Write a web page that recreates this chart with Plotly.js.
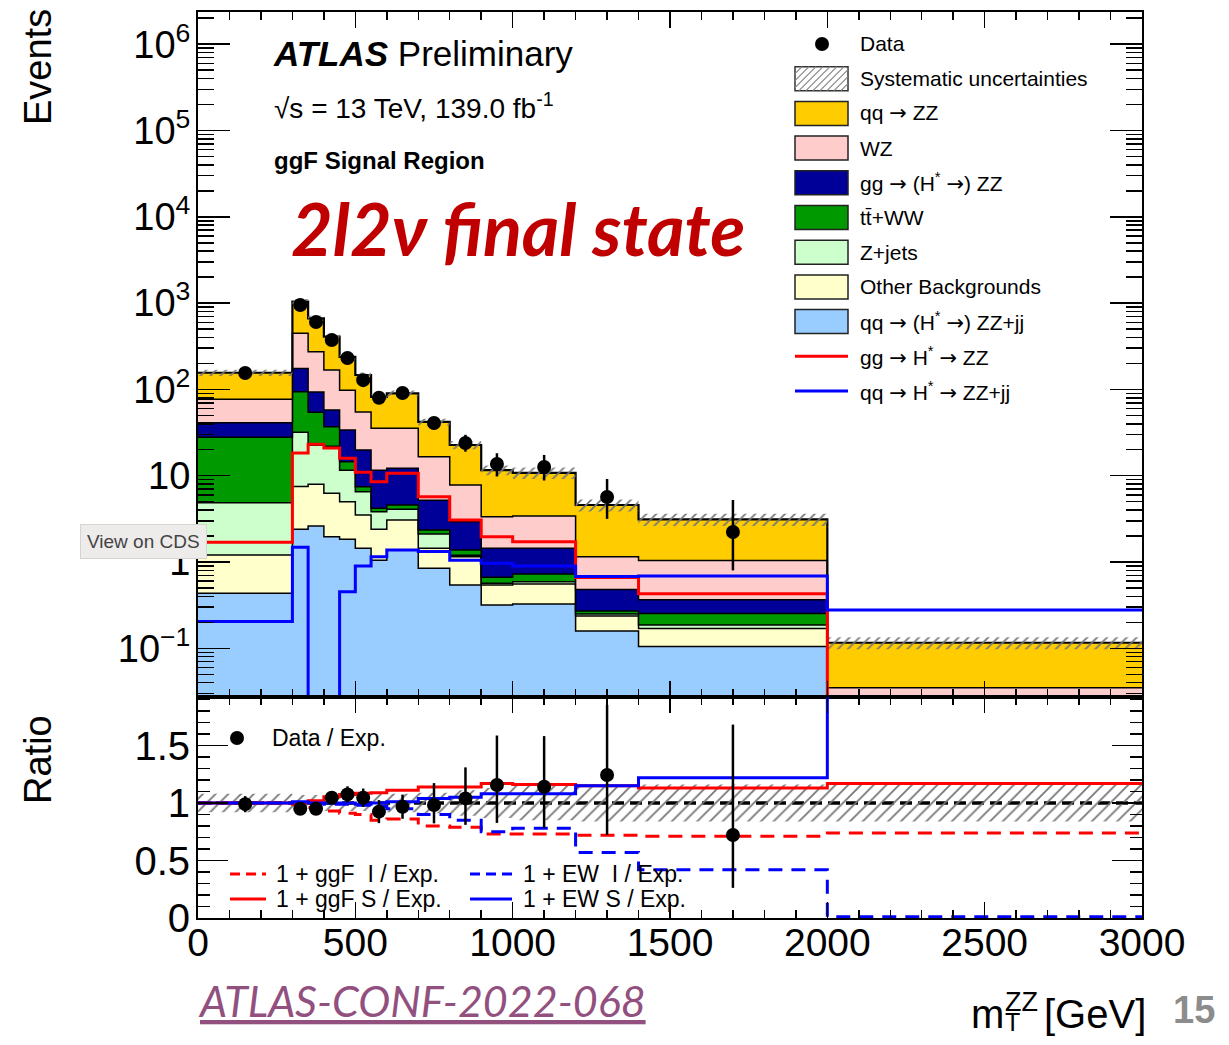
<!DOCTYPE html>
<html><head><meta charset="utf-8">
<script src="https://cdn.plot.ly/plotly-3.0.1.min.js"></script>
<style>body{margin:0;background:#fff}#plot{width:1229px;height:1045px}</style>
</head><body><div id="plot"></div>
<script>
// ---------------- data ----------------
const binEdges = [0,300,350,400,450,500,550,600,700,800,900,1000,1200,1400,2000,3000];
// stacked background components (events per bin), bottom to top
const qqZZjj   = [0.434, 2.39, 2.61, 1.96, 1.83, 1.44, 1.05, 1.38, 0.845, 0.54, 0.317, 0.326, 0.159, 0.105, 0.004];
const otherBkg = [0.77, 5.1, 5.34, 4.29, 3.17, 2.06, 1.34, 1.69, 0.595, 0.61, 0.223, 0.23, 0.078, 0.065, 0.002];
const zJets    = [3.66, 24.5, 14.6, 15.7, 6.6, 3.0, 1.44, 1.01, 0.67, 0.05, 0.026, 0.034, 0.013, 0.016, 0.001];
const ttWW     = [23.0, 62, 32, 15, 2.9, 0.96, 0.36, 0.5, 0.24, 0.18, 0.098, 0.136, 0.02, 0.068, 0.002];
const ggZZ     = [13.1, 81, 39, 20.7, 19.3, 12.4, 7.4, 7.6, 2.85, 1.55, 0.776, 0.714, 0.21, 0.111, 0.003];
const wzBkg    = [36, 272, 179, 110, 64, 35, 23.8, 23.2, 11.4, 4.87, 1.91, 1.97, 0.67, 0.675, 0.023];
const qqZZ     = [79, 593, 394, 241, 141, 92, 46.6, 54.6, 25.4, 14.9, 8.25, 7.39, 3.43, 2.08, 0.081];
const sysFrac  = [0.08, 0.07, 0.07, 0.07, 0.07, 0.07, 0.08, 0.08, 0.09, 0.11, 0.13, 0.15, 0.16, 0.16, 0.16];
// signal overlays
const ggHstarZZ   = [1.69, 18.3, 23.2, 21, 15.9, 11, 8.5, 10.7, 5.7, 3.07, 1.96, 1.72, 0.66, 0.43, 0.02];
const qqHstarZZjj = [0.204, 1.48, 0.001, 0.001, 0.453, 0.9, 1.15, 1.38, 1.32, 1.05, 0.97, 0.9, 0.68, 0.69, 0.278];
// data
const dataCounts = [155, 951, 604, 373, 231, 128, 80, 91, 40.8, 23.9, 13.7, 12.6, 5.66, 2.23];
const dataErrUp  = [12.5, 31, 25, 19, 15, 11.5, 9, 9.5, 7.4, 5.9, 4.5, 4.8, 3.5, 3.0];
const dataErrDn  = [12.5, 31, 25, 19, 15, 11.5, 9, 9.5, 6.4, 4.9, 3.9, 3.8, 2.5, 1.43];
// ratio panel
const ratioData  = [0.99, 0.95, 0.95, 1.046, 1.075, 1.046, 0.925, 0.968, 0.983, 1.04, 1.157, 1.142, 1.243, 0.722];
const ratioErrUp = [0.07, 0.04, 0.05, 0.05, 0.07, 0.08, 0.1, 0.105, 0.19, 0.27, 0.43, 0.44, 0.61, 0.96];
const ratioErrDn = [0.07, 0.04, 0.05, 0.05, 0.07, 0.08, 0.1, 0.105, 0.16, 0.23, 0.33, 0.36, 0.52, 0.46];
const ratioGgfI = [1.0, 0.99, 0.96, 0.93, 0.91, 0.9, 0.85, 0.86, 0.8, 0.79, 0.73, 0.73, 0.72, 0.71, 0.74];
const ratioGgfS = [1.0, 1.0, 1.02, 1.055, 1.075, 1.085, 1.09, 1.11, 1.14, 1.14, 1.17, 1.16, 1.15, 1.13, 1.17];
const ratioEwI  = [1.0, 1.0, 1.0, 0.99, 0.99, 0.98, 0.97, 0.95, 0.9, 0.85, 0.75, 0.78, 0.57, 0.42, 0.01];
const ratioEwS  = [1.0, 1.01, 1.0, 1.0, 1.0, 0.99, 1.0, 1.01, 1.04, 1.05, 1.08, 1.08, 1.15, 1.22, 3.4];

const AR = '<span style="font-family:DejaVu Sans">→</span>';
const legendLabels = ['Data','Systematic uncertainties','qq '+AR+' ZZ','WZ','gg '+AR+' (H<sup>*</sup> '+AR+') ZZ','tt\u0304+WW','Z+jets','Other Backgrounds','qq '+AR+' (H<sup>*</sup> '+AR+') ZZ+jj','gg '+AR+' H<sup>*</sup> '+AR+' ZZ','qq '+AR+' H<sup>*</sup> '+AR+' ZZ+jj'];
const stackColors = {qqZZjj:'#99CCFF', other:'#FFFFCC', zjets:'#CCFFCC', tt:'#009900', gg:'#000099', wz:'#FFCCCC', qqzz:'#FFCC00'};

// ---------------- build ----------------
const nb = binEdges.length - 1;
const centers = binEdges.slice(0,-1).map((e,i)=>(e+binEdges[i+1])/2);
const step = v => v.concat([v[v.length-1]]);
const traces = [];
const stack = [
  {v:qqZZjj, c:stackColors.qqZZjj}, {v:otherBkg, c:stackColors.other}, {v:zJets, c:stackColors.zjets},
  {v:ttWW, c:stackColors.tt}, {v:ggZZ, c:stackColors.gg}, {v:wzBkg, c:stackColors.wz}, {v:qqZZ, c:stackColors.qqzz}
];
let cum = new Array(nb).fill(0);
stack.forEach((s,i)=>{
  cum = cum.map((v,j)=>v+s.v[j]);
  traces.push({x:binEdges, y:step(cum), mode:'lines', xaxis:'x', yaxis:'y',
    line:{shape:'hv', color:'#000', width: i===stack.length-1 ? 2.2 : 1.5},
    fill: i===0 ? 'tozeroy' : 'tonexty', fillcolor:s.c, hoverinfo:'skip', showlegend:false});
});
const total = cum.slice();
// systematic band
traces.push({x:binEdges, y:step(total.map((t,j)=>t*(1-sysFrac[j]))), mode:'lines', line:{shape:'hv', width:0, color:'rgba(0,0,0,0)'}, xaxis:'x', yaxis:'y', hoverinfo:'skip', showlegend:false});
traces.push({x:binEdges, y:step(total.map((t,j)=>t*(1+sysFrac[j]))), mode:'lines', line:{shape:'hv', width:0, color:'rgba(0,0,0,0)'}, fill:'tonexty', fillcolor:'rgba(0,0,0,0)',
  fillpattern:{shape:'/', fgcolor:'#777', bgcolor:'rgba(0,0,0,0)', size:7, solidity:0.25}, xaxis:'x', yaxis:'y', hoverinfo:'skip', showlegend:false});
// signal lines
traces.push({x:binEdges, y:step(ggHstarZZ), mode:'lines', line:{shape:'hv', color:'#FF0000', width:3}, xaxis:'x', yaxis:'y', showlegend:false});
traces.push({x:binEdges, y:step(qqHstarZZjj), mode:'lines', line:{shape:'hv', color:'#0000FF', width:3}, xaxis:'x', yaxis:'y', showlegend:false});
// data
traces.push({x:centers.slice(0,dataCounts.length), y:dataCounts, mode:'markers', marker:{color:'#000', size:14},
  error_y:{type:'data', symmetric:false, array:dataErrUp, arrayminus:dataErrDn, thickness:2.5, width:0, color:'#000'},
  xaxis:'x', yaxis:'y', showlegend:false});

// ratio panel
traces.push({x:binEdges, y:step(sysFrac.map(s=>1-s)), mode:'lines', line:{shape:'hv', width:0, color:'rgba(0,0,0,0)'}, xaxis:'x2', yaxis:'y2', hoverinfo:'skip', showlegend:false});
traces.push({x:binEdges, y:step(sysFrac.map(s=>1+s)), mode:'lines', line:{shape:'hv', width:0, color:'rgba(0,0,0,0)'}, fill:'tonexty', fillcolor:'rgba(0,0,0,0)',
  fillpattern:{shape:'/', fgcolor:'#777', bgcolor:'rgba(0,0,0,0)', size:9, solidity:0.2}, xaxis:'x2', yaxis:'y2', hoverinfo:'skip', showlegend:false});
traces.push({x:binEdges, y:step(ratioGgfI), mode:'lines', line:{shape:'hv', color:'#FF0000', width:3, dash:'14px,9px'}, xaxis:'x2', yaxis:'y2', showlegend:false});
traces.push({x:binEdges, y:step(ratioEwI), mode:'lines', line:{shape:'hv', color:'#0000FF', width:3, dash:'14px,9px'}, xaxis:'x2', yaxis:'y2', showlegend:false});
traces.push({x:binEdges, y:step(ratioGgfS), mode:'lines', line:{shape:'hv', color:'#FF0000', width:3}, xaxis:'x2', yaxis:'y2', showlegend:false});
traces.push({x:binEdges, y:step(ratioEwS), mode:'lines', line:{shape:'hv', color:'#0000FF', width:3}, xaxis:'x2', yaxis:'y2', showlegend:false});
traces.push({x:centers.slice(0,ratioData.length), y:ratioData, mode:'markers', marker:{color:'#000', size:14},
  error_y:{type:'data', symmetric:false, array:ratioErrUp, arrayminus:ratioErrDn, thickness:2.5, width:0, color:'#000'},
  xaxis:'x2', yaxis:'y2', showlegend:false});

// ---------------- layout helpers ----------------
const L=198, R=1142, T=12, B=918;
const PX = px => (px-L)/(R-L);
const PY = py => (B-py)/(B-T);
const FONT = 'Liberation Sans, Arial, sans-serif';
const shapes = [];
const ann = [];

// black dashed line at ratio 1
shapes.push({type:'line', xref:'x2 domain', yref:'y2', x0:0, x1:1, y0:1, y1:1, line:{color:'#000', width:3.5, dash:'12px,6px'}, layer:'below'});

// top legend
const legY = legendLabels.map((_,i)=>44 + i*34.7);
const boxColors = [null, 'hatch', stackColors.qqzz, stackColors.wz, stackColors.gg, stackColors.tt, stackColors.zjets, stackColors.other, stackColors.qqZZjj, 'red', 'blue'];
legendLabels.forEach((lab,i)=>{
  const cy = legY[i];
  const c = boxColors[i];
  if (i===0) {
    shapes.push({type:'circle', xref:'paper', yref:'paper', x0:PX(815), x1:PX(829), y0:PY(cy+7), y1:PY(cy-7), fillcolor:'#000', line:{width:0}});
  } else if (c==='red' || c==='blue') {
    shapes.push({type:'line', xref:'paper', yref:'paper', x0:PX(795), x1:PX(848), y0:PY(cy), y1:PY(cy), line:{color: c==='red'?'#FF0000':'#0000FF', width:3}});
  } else if (c==='hatch') {
    shapes.push({type:'rect', xref:'paper', yref:'paper', x0:PX(795), x1:PX(848), y0:PY(cy+12), y1:PY(cy-12), fillcolor:'#fff', line:{color:'#333', width:1.5}});
    for (let x0=795-24; x0<848; x0+=7) {
      const t0 = Math.max(0, 795-x0), t1 = Math.min(24, 848-x0);
      if (t1<=t0) continue;
      shapes.push({type:'line', xref:'paper', yref:'paper', x0:PX(x0+t0), y0:PY(cy+12-t0), x1:PX(x0+t1), y1:PY(cy+12-t1), line:{color:'#888', width:1.2}});
    }
  } else {
    shapes.push({type:'rect', xref:'paper', yref:'paper', x0:PX(795), x1:PX(848), y0:PY(cy+12), y1:PY(cy-12), fillcolor:c, line:{color:'#222', width:1.5}});
  }
  ann.push({xref:'paper', yref:'paper', x:PX(858), y:PY(cy), xanchor:'left', yanchor:'middle', text:lab, showarrow:false, font:{family:FONT, size:21, color:'#000'}});
});

// ratio legends
shapes.push({type:'circle', xref:'paper', yref:'paper', x0:PX(230), x1:PX(244), y0:PY(745), y1:PY(731), fillcolor:'#000', line:{width:0}});
ann.push({xref:'paper', yref:'paper', x:PX(270), y:PY(738), xanchor:'left', yanchor:'middle', text:'Data / Exp.', showarrow:false, font:{family:FONT, size:23, color:'#000'}});
const rl = [
  {x0:230, x1:266, y:874, col:'#FF0000', dash:'10px,6px', tx:274, text:'1 + ggF  I / Exp.'},
  {x0:230, x1:266, y:899, col:'#FF0000', dash:'solid', tx:274, text:'1 + ggF S / Exp.'},
  {x0:470, x1:512, y:874, col:'#0000FF', dash:'10px,6px', tx:521, text:'1 + EW  I / Exp.'},
  {x0:470, x1:512, y:899, col:'#0000FF', dash:'solid', tx:521, text:'1 + EW S / Exp.'}
];
rl.forEach(r=>{
  shapes.push({type:'line', xref:'paper', yref:'paper', x0:PX(r.x0), x1:PX(r.x1), y0:PY(r.y), y1:PY(r.y), line:{color:r.col, width:3, dash:r.dash}});
  ann.push({xref:'paper', yref:'paper', x:PX(r.tx), y:PY(r.y), xanchor:'left', yanchor:'middle', text:r.text, showarrow:false, font:{family:FONT, size:23, color:'#000'}});
});

// texts
ann.push({xref:'paper', yref:'paper', x:PX(271), y:PY(53), xanchor:'left', yanchor:'middle', text:'<b><i>ATLAS</i></b> Preliminary', showarrow:false, font:{family:FONT, size:35, color:'#000'}});
ann.push({xref:'paper', yref:'paper', x:PX(272), y:PY(106), xanchor:'left', yanchor:'middle', text:'√s = 13 TeV, 139.0 fb<sup>-1</sup>', showarrow:false, font:{family:FONT, size:28, color:'#000'}});
ann.push({xref:'paper', yref:'paper', x:PX(272), y:PY(161), xanchor:'left', yanchor:'middle', text:'<b>ggF Signal Region</b>', showarrow:false, font:{family:FONT, size:24, color:'#000'}});
ann.push({xref:'paper', yref:'paper', x:PX(518), y:PY(228), xanchor:'center', yanchor:'middle', text:'<b><i>2l2ν final state</i></b>', showarrow:false, font:{family:'Lato, Open Sans, sans-serif', size:72, color:'#C00000'}});
ann.push({xref:'paper', yref:'paper', x:PX(38), y:PY(67), xanchor:'center', yanchor:'middle', textangle:-90, text:'Events', showarrow:false, font:{family:FONT, size:38, color:'#000'}});
ann.push({xref:'paper', yref:'paper', x:PX(38), y:PY(760), xanchor:'center', yanchor:'middle', textangle:-90, text:'Ratio', showarrow:false, font:{family:FONT, size:38, color:'#000'}});
ann.push({xref:'paper', yref:'paper', x:PX(969), y:PY(1014), xanchor:'left', yanchor:'middle', text:'m', showarrow:false, font:{family:FONT, size:40, color:'#000'}});
ann.push({xref:'paper', yref:'paper', x:PX(1003), y:PY(1002), xanchor:'left', yanchor:'middle', text:'ZZ', showarrow:false, font:{family:FONT, size:27, color:'#000'}});
ann.push({xref:'paper', yref:'paper', x:PX(1003), y:PY(1022), xanchor:'left', yanchor:'middle', text:'T', showarrow:false, font:{family:FONT, size:25, color:'#000'}});
ann.push({xref:'paper', yref:'paper', x:PX(1042), y:PY(1014), xanchor:'left', yanchor:'middle', text:'[GeV]', showarrow:false, font:{family:FONT, size:40, color:'#000'}});
ann.push({xref:'paper', yref:'paper', x:PX(1171), y:PY(1010), xanchor:'left', yanchor:'middle', text:'<b>15</b>', showarrow:false, font:{family:FONT, size:38, color:'#8C8C8C'}});
ann.push({xref:'paper', yref:'paper', x:PX(196), y:PY(1000), xanchor:'left', yanchor:'middle', text:'<span style="text-decoration:underline"><i>ATLAS-CONF-2022-068</i></span>', showarrow:false, font:{family:'Lato, Open Sans, sans-serif', size:43, color:'#92507F'}});
ann.push({xref:'paper', yref:'paper', x:PX(143), y:PY(541), xanchor:'center', yanchor:'middle', text:'View on CDS', showarrow:false, bgcolor:'#EEEBEB', bordercolor:'#D6D3D3', borderwidth:1, borderpad:6, font:{family:FONT, size:19, color:'#444'}});

// log ticks
const decades = [-1,0,1,2,3,4,5,6];
const ytickvals = decades.map(d=>Math.pow(10,d));
const yticktext = ['10<sup>−1</sup>','1','10','10<sup>2</sup>','10<sup>3</sup>','10<sup>4</sup>','10<sup>5</sup>','10<sup>6</sup>'];
const yminor = [];
for (let d=-2; d<=6; d++) for (let m=2; m<=9; m++) yminor.push(m*Math.pow(10,d));

const axCommon = {showline:true, linecolor:'#000', linewidth:2, mirror:'allticks', ticks:'inside', tickcolor:'#000', tickwidth:1.5, showgrid:false, zeroline:false};
const layout = {
  width:1229, height:1045, paper_bgcolor:'#fff', plot_bgcolor:'#fff',
  margin:{l:L, r:1229-R, t:T, b:1045-B},
  showlegend:false,
  xaxis: Object.assign({}, axCommon, {anchor:'y', domain:[0,1], range:[0,3000], dtick:500, ticklen:16, showticklabels:false,
    minor:{ticks:'inside', dtick:100, ticklen:8, tickcolor:'#000', tickwidth:1.5}}),
  xaxis2: Object.assign({}, axCommon, {anchor:'y2', domain:[0,1], range:[0,3000], matches:'x', dtick:500, ticklen:16,
    tickfont:{family:FONT, size:39, color:'#000'}, ticklabelstandoff:-11,
    minor:{ticks:'inside', dtick:100, ticklen:8, tickcolor:'#000', tickwidth:1.5}}),
  yaxis: Object.assign({}, axCommon, {anchor:'x', domain:[221/906, 1], type:'log', range:[-1.564, 6.373],
    tickmode:'array', tickvals:ytickvals, ticktext:yticktext, ticklen:32,
    tickfont:{family:FONT, size:38, color:'#000'}, ticklabelstandoff:-2,
    minor:{ticks:'inside', tickmode:'array', tickvals:yminor, ticklen:16, tickcolor:'#000', tickwidth:1.5}}),
  yaxis2: Object.assign({}, axCommon, {anchor:'x2', domain:[0, 221/906], range:[0, 1.922],
    tickmode:'array', tickvals:[0,0.5,1,1.5], ticktext:['0','0.5','1','1.5'], ticklen:30,
    tickfont:{family:FONT, size:40, color:'#000'}, ticklabelstandoff:-2,
    minor:{ticks:'inside', dtick:0.1, ticklen:12, tickcolor:'#000', tickwidth:1.5}}),
  shapes: shapes, annotations: ann
};
Plotly.newPlot('plot', traces, layout, {staticPlot:true});
</script></body></html>
